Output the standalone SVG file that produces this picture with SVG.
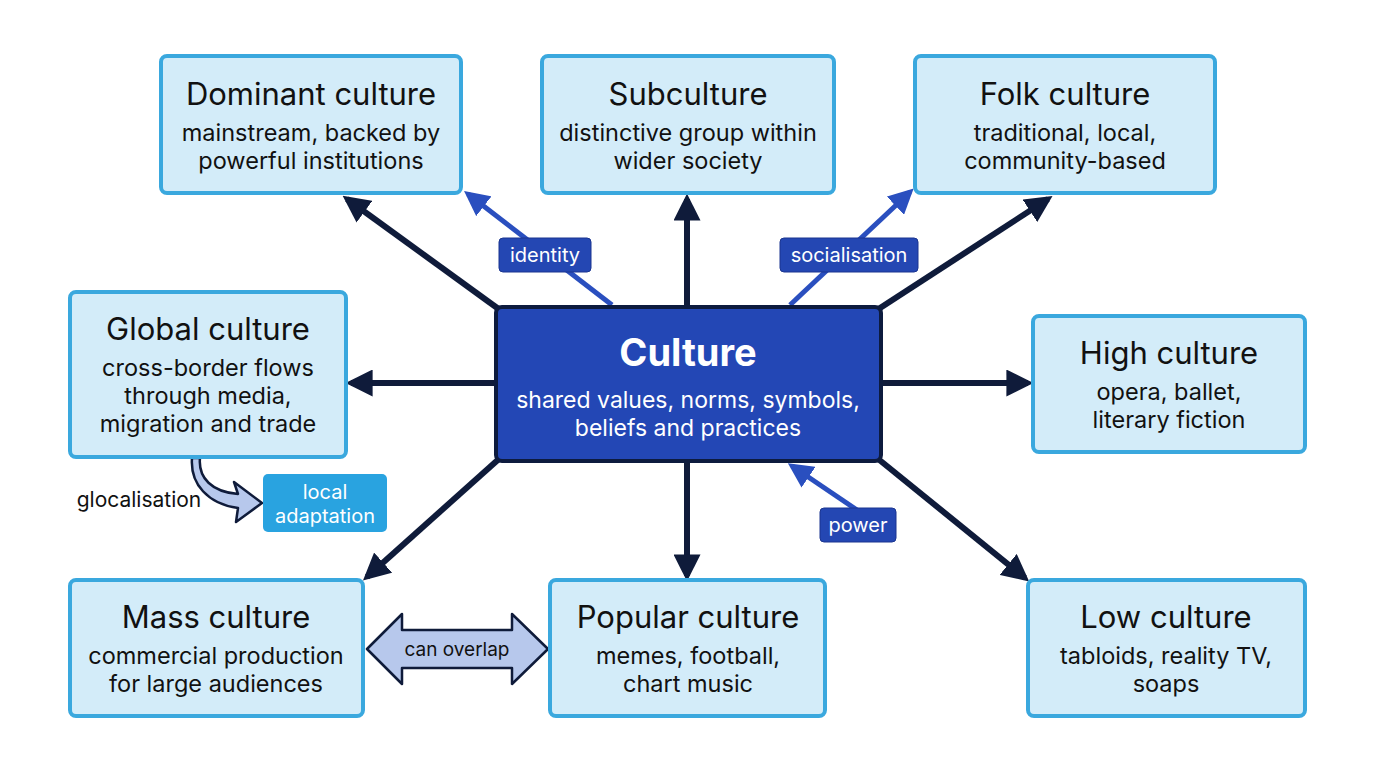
<svg xmlns="http://www.w3.org/2000/svg" width="1376" height="768" viewBox="0 0 1376 768">
<defs>
<style>
.n{fill:#d3ecf9;stroke:#3aa8de;stroke-width:4}
.t{font-family:Inter,"Liberation Sans",sans-serif;fill:#111;text-anchor:middle}
.h{font-size:31px}
.s{font-size:23.5px}
.d{stroke:#0f1b3a;stroke-width:6;fill:none}
.b{stroke:#2a4fbf;stroke-width:5;fill:none}
.lb{fill:#2447b3;stroke:#1a3590;stroke-width:1}
.lt{font-family:Inter,"Liberation Sans",sans-serif;fill:#fff;font-size:20px;text-anchor:middle}
</style>
<marker id="ad" viewBox="0 0 10 10" refX="8" refY="5" markerWidth="4.5" markerHeight="4.5" orient="auto" markerUnits="strokeWidth"><path d="M0,0L10,5L0,10z" fill="#0f1b3a"/></marker>
<marker id="ab" viewBox="0 0 10 10" refX="8" refY="5" markerWidth="5" markerHeight="5" orient="auto" markerUnits="strokeWidth"><path d="M0,0L10,5L0,10z" fill="#2a4fbf"/></marker>
</defs>
<rect width="1376" height="768" fill="#fff"/>
<g id="connectors">
<line class="d" x1="500" y1="310" x2="347" y2="199" marker-end="url(#ad)"/>
<line class="d" x1="687" y1="307" x2="687" y2="199" marker-end="url(#ad)"/>
<line class="d" x1="877" y1="310" x2="1048" y2="199" marker-end="url(#ad)"/>
<line class="d" x1="496" y1="383" x2="351" y2="383" marker-end="url(#ad)"/>
<line class="d" x1="881" y1="383" x2="1028" y2="383" marker-end="url(#ad)"/>
<line class="d" x1="500" y1="458" x2="367" y2="577" marker-end="url(#ad)"/>
<line class="d" x1="687" y1="461" x2="687" y2="576" marker-end="url(#ad)"/>
<line class="d" x1="877" y1="458" x2="1025" y2="578" marker-end="url(#ad)"/>
<line class="b" x1="612" y1="305" x2="468" y2="194" marker-end="url(#ab)"/>
<line class="b" x1="790" y1="305" x2="910" y2="192" marker-end="url(#ab)"/>
<line class="b" x1="860" y1="512" x2="792" y2="466" marker-end="url(#ab)"/>
<path d="M200,458 C198,478 212,492 238,494 L234,482 L262,503 L236,522 L238,508 C208,504 190,484 192,458 Z" fill="#b7c8ec" stroke="#0f1b3a" stroke-width="2.5" stroke-linejoin="round"/>
<path d="M367,649 L402,614 L402,630 L512,630 L512,614 L548,649 L512,684 L512,668 L402,668 L402,684 Z" fill="#b7c8ec" stroke="#0f1b3a" stroke-width="2.5" stroke-linejoin="round"/>
<text class="t" x="457" y="656" font-size="19">can overlap</text>
<rect class="lb" x="499" y="238" width="92" height="34" rx="4"/><text class="lt" x="545" y="262">identity</text>
<rect class="lb" x="780" y="238" width="138" height="34" rx="4"/><text class="lt" x="849" y="262">socialisation</text>
<rect class="lb" x="820" y="508" width="76" height="34" rx="4"/><text class="lt" x="858" y="532">power</text>
<text class="t" x="139" y="507" font-size="21">glocalisation</text>
<rect x="263" y="474" width="124" height="58" rx="5" fill="#29a3e0"/>
<text class="lt" x="325" y="499">local</text><text class="lt" x="325" y="523">adaptation</text>
</g>
<g id="culture"><rect x="496" y="307" width="385" height="154" rx="6" fill="#2347b5" stroke="#0d1b3e" stroke-width="4"/>
<text class="t" x="688" y="366" font-size="38" font-weight="bold" style="fill:#fff">Culture</text>
<text class="t" x="688" y="408" font-size="23" style="fill:#fff">shared values, norms, symbols,</text>
<text class="t" x="688" y="436" font-size="23" style="fill:#fff">beliefs and practices</text></g>
<g id="dominant"><rect class="n" x="161" y="56" width="300" height="137" rx="6"/>
<text class="t h" x="311" y="105">Dominant culture</text><text class="t s" x="311" y="141">mainstream, backed by</text><text class="t s" x="311" y="169">powerful institutions</text></g>
<g id="subculture"><rect class="n" x="542" y="56" width="292" height="137" rx="6"/>
<text class="t h" x="688" y="105">Subculture</text><text class="t s" x="688" y="141">distinctive group within</text><text class="t s" x="688" y="169">wider society</text></g>
<g id="folk"><rect class="n" x="915" y="56" width="300" height="137" rx="6"/>
<text class="t h" x="1065" y="105">Folk culture</text><text class="t s" x="1065" y="141">traditional, local,</text><text class="t s" x="1065" y="169">community-based</text></g>
<g id="global"><rect class="n" x="70" y="292" width="276" height="165" rx="6"/>
<text class="t h" x="208" y="340">Global culture</text><text class="t s" x="208" y="376">cross-border flows</text><text class="t s" x="208" y="404">through media,</text><text class="t s" x="208" y="432">migration and trade</text></g>
<g id="high"><rect class="n" x="1033" y="316" width="272" height="136" rx="6"/>
<text class="t h" x="1169" y="364">High culture</text><text class="t s" x="1169" y="400">opera, ballet,</text><text class="t s" x="1169" y="428">literary fiction</text></g>
<g id="mass"><rect class="n" x="70" y="580" width="293" height="136" rx="6"/>
<text class="t h" x="216" y="628">Mass culture</text><text class="t s" x="216" y="664">commercial production</text><text class="t s" x="216" y="692">for large audiences</text></g>
<g id="popular"><rect class="n" x="550" y="580" width="275" height="136" rx="6"/>
<text class="t h" x="688" y="628">Popular culture</text><text class="t s" x="688" y="664">memes, football,</text><text class="t s" x="688" y="692">chart music</text></g>
<g id="low"><rect class="n" x="1028" y="580" width="277" height="136" rx="6"/>
<text class="t h" x="1166" y="628">Low culture</text><text class="t s" x="1166" y="664">tabloids, reality TV,</text><text class="t s" x="1166" y="692">soaps</text></g>
</svg>
